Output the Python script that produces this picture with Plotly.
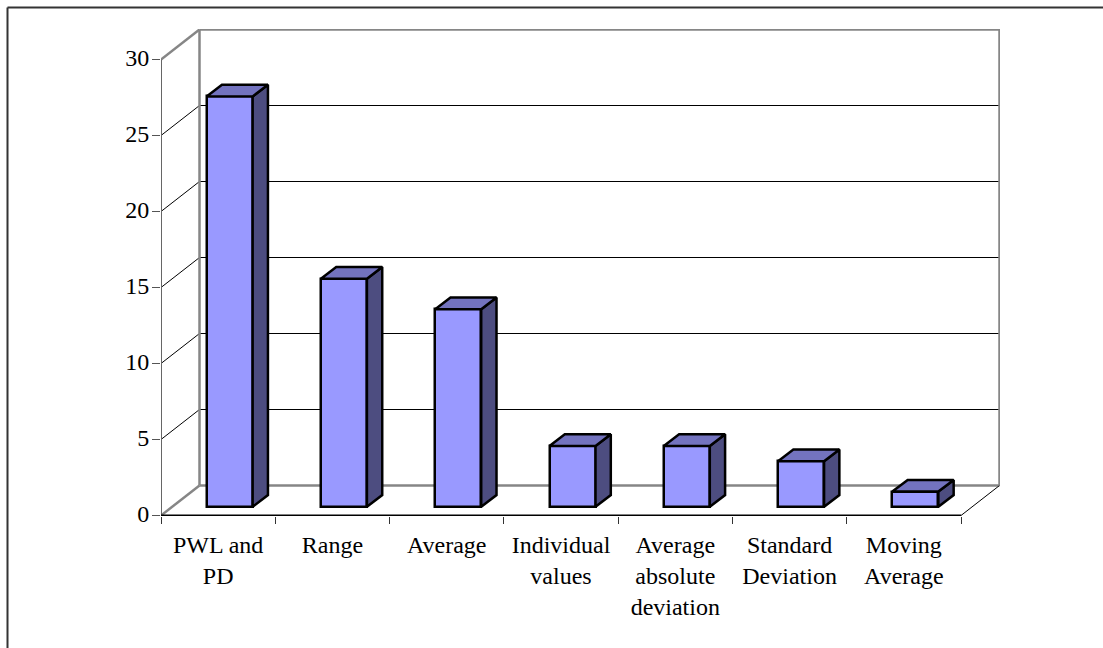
import plotly.graph_objects as go

categories = ["PWL and<br>PD", "Range", "Average", "Individual<br>values",
              "Average<br>absolute<br>deviation", "Standard<br>Deviation", "Moving<br>Average"]
values = [27, 15, 13, 4, 4, 3, 1]
y_ticks = [0, 5, 10, 15, 20, 25, 30]

W, H = 1103, 648
X0, X1, Y0, Y1 = 161, 1000, 516, 29   # plot-area pixels
PX_X = 800 / 7.0
PX_Y = 15.2
ZERO_PAD = 0.5 / PX_Y                  # zero line sits half a pixel above the plot edge
WALL_DX = 38.5 / PX_X
WALL_DY = 30.0 / PX_Y
BAR_W = 46 / PX_X
BAR_DX = 11.5 / PX_X
BAR_DY = 8.7 / PX_Y
DEPTH_X = 15.3 / PX_X
DEPTH_Y = 11.7 / PX_Y

FRONT, TOP, SIDE = "#9999FF", "#7373BF", "#4D4D80"
GREY = "#868686"
SERIF = "Liberation Serif, Times New Roman, serif"
FS = 24
n = len(categories)
centers = [i + 0.5 + BAR_DX for i in range(n)]

shapes = []
def seg(x0, y0, x1, y1, color, width):
    shapes.append(dict(type="line", xref="x", yref="y", x0=x0, y0=y0, x1=x1, y1=y1,
                       line=dict(color=color, width=width), layer="below"))

def paper_x(px):
    return (px - X0) / (X1 - X0)

def paper_y(py):
    return (Y0 - py) / (Y0 - Y1)

# side wall and back wall gridlines
for t in y_ticks[1:-1]:
    seg(0, t, WALL_DX, t + WALL_DY, "#000000", 1)
    seg(WALL_DX, t + WALL_DY, n + WALL_DX, t + WALL_DY, "#000000", 1)
seg(WALL_DX, WALL_DY, WALL_DX, 30 + WALL_DY, GREY, 2.5)
seg(WALL_DX, WALL_DY, n + WALL_DX, WALL_DY, GREY, 2.5)
seg(0, 0, WALL_DX, WALL_DY, GREY, 2.5)
seg(0, 30, WALL_DX, 30 + WALL_DY, GREY, 2.5)
seg(n, 0, n + WALL_DX, WALL_DY, "#000000", 1)
# outer frame: top and left only
for a, b, c, d in [(7.5, 648, 7.5, 7.5), (7.5, 7.5, 1103, 7.5)]:
    shapes.append(dict(type="line", xref="paper", yref="paper",
                       x0=paper_x(a), y0=paper_y(b), x1=paper_x(c), y1=paper_y(d),
                       line=dict(color="#333333", width=2), layer="below"))

fig = go.Figure()

fig.add_trace(go.Bar(
    x=centers, y=values, base=[BAR_DY] * n, width=BAR_W,
    marker=dict(color=FRONT, line=dict(color="#000000", width=2.5)),
    showlegend=False, hoverinfo="skip"))

side_x, side_y, top_x, top_y = [], [], [], []
for c, v in zip(centers, values):
    l, r = c - BAR_W / 2, c + BAR_W / 2
    b, t = BAR_DY, BAR_DY + v
    side_x += [r, r + DEPTH_X, r + DEPTH_X, r, r, None]
    side_y += [b, b + DEPTH_Y, t + DEPTH_Y, t, b, None]
    top_x += [l, l + DEPTH_X, r + DEPTH_X, r, l, None]
    top_y += [t, t + DEPTH_Y, t + DEPTH_Y, t, t, None]

for xs, ys, col in [(side_x, side_y, SIDE), (top_x, top_y, TOP)]:
    fig.add_trace(go.Scatter(x=xs, y=ys, mode="lines", fill="toself", fillcolor=col,
                             line=dict(color="#000000", width=2.5),
                             showlegend=False, hoverinfo="skip"))

# frame lines lying on the plot edge: not clipped
edge_lines = [
    ([WALL_DX, n + WALL_DX, n + WALL_DX], [30 + WALL_DY, 30 + WALL_DY, WALL_DY], GREY, 2.5),
    ([0, 0], [0, 30], "#666666", 2),
    ([0, n], [0, 0], "#000000", 2),
]
for xs, ys, col, w in edge_lines:
    fig.add_trace(go.Scatter(x=xs, y=ys, mode="lines", cliponaxis=False,
                             line=dict(color=col, width=w),
                             showlegend=False, hoverinfo="skip"))

fig.update_layout(
    width=W, height=H, autosize=False,
    margin=dict(l=X0, r=W - X1, t=Y1, b=H - Y0, pad=0),
    paper_bgcolor="#FFFFFF", plot_bgcolor="#FFFFFF",
    shapes=shapes, showlegend=False, bargap=0,
    xaxis=dict(range=[0, (X1 - X0) / PX_X], tickmode="array",
               tickvals=[i + 0.5 for i in range(n)], ticktext=categories,
               ticks="", ticklabelstandoff=12, tickangle=0,
               tickfont=dict(family=SERIF, size=FS, color="#000000"),
               minor=dict(tickmode="array", tickvals=list(range(n + 1)), ticks="outside",
                          ticklen=7, tickwidth=1, tickcolor="#333333", showgrid=False),
               showgrid=False, zeroline=False, showline=False),
    yaxis=dict(range=[-ZERO_PAD, (Y0 - Y1) / PX_Y - ZERO_PAD], tickmode="array", tickvals=y_ticks,
               ticktext=[str(t) for t in y_ticks],
               ticks="outside", ticklen=8, tickwidth=1, tickcolor="#555555",
               ticklabelstandoff=-2, ticklabelshift=-2,
               tickfont=dict(family=SERIF, size=FS, color="#000000"),
               showgrid=False, zeroline=False, showline=False),
)
fig.write_html("out.html", config=dict(displayModeBar=False),
               post_script="document.body.style.margin='0';")
